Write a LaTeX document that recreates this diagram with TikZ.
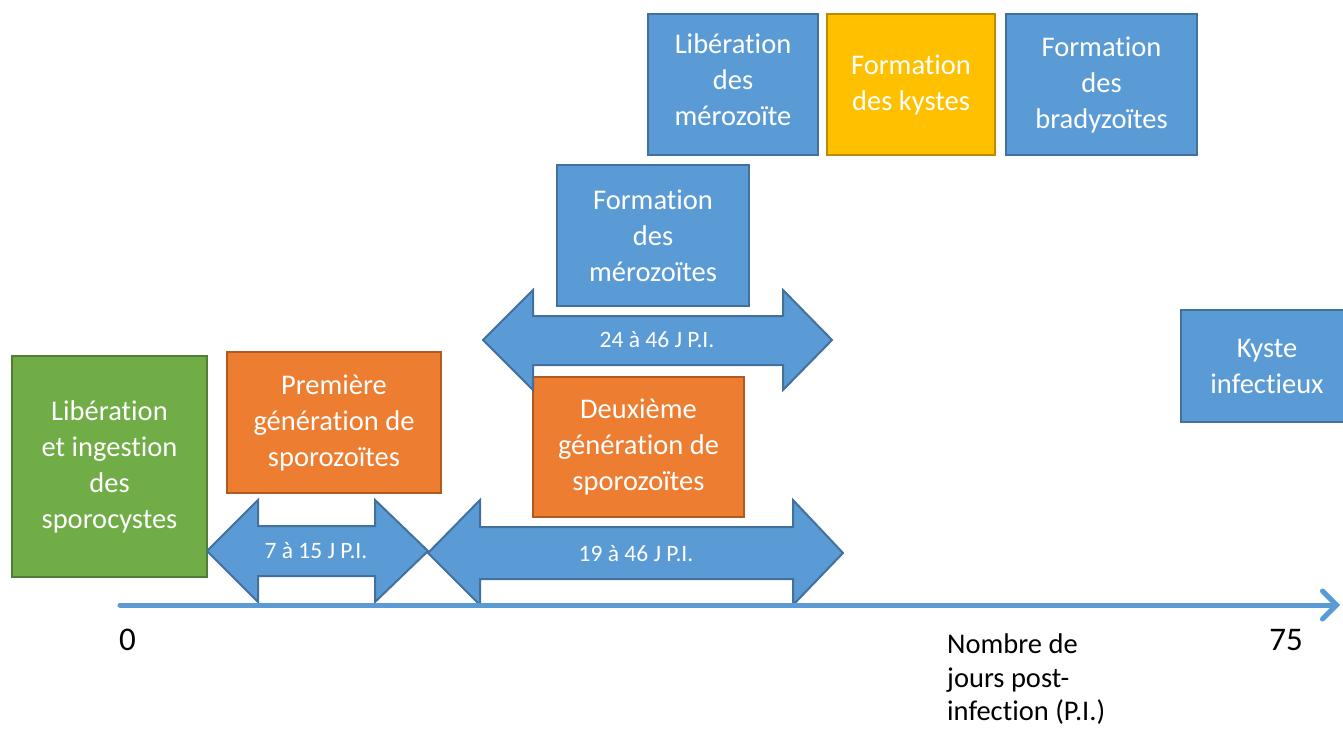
\documentclass[tikz,border=0pt]{standalone}
\usepackage{fontspec}
\setmainfont{Carlito}[RawFeature={-liga;-clig;-dlig}]
\usetikzlibrary{arrows.meta}
\definecolor{bfill}{HTML}{5B9BD5}
\definecolor{bline}{HTML}{41719C}
\definecolor{gfill}{HTML}{70AD47}
\definecolor{gline}{HTML}{507E32}
\definecolor{ofill}{HTML}{ED7D31}
\definecolor{oline}{HTML}{AE5A21}
\definecolor{yfill}{HTML}{FFC000}
\definecolor{yline}{HTML}{BC8C00}
\tikzset{
  box/.style={rectangle, line width=2pt, text=white, align=center, inner sep=0pt,
    font=\fontsize{28.5}{36}\selectfont},
  bluebox/.style={box, draw=bline, fill=bfill},
  greenbox/.style={box, draw=gline, fill=gfill},
  orangebox/.style={box, draw=oline, fill=ofill},
  yellowbox/.style={box, draw=yline, fill=yfill},
  arrowshape/.style={draw=bline, fill=bfill, line width=2pt, line join=miter},
  arrlabel/.style={text=white, inner sep=0pt, font=\fontsize{23.5}{28}\selectfont},
  axis/.style={draw=bfill, line width=5pt, line cap=round,
    -{Straight Barb[length=14pt,width=28pt,line cap=round]}},
  axlabel/.style={inner sep=0pt, font=\fontsize{33}{38}\selectfont},
  axtitle/.style={inner sep=0pt, align=left, anchor=north west, font=\fontsize{28.5}{33.5}\selectfont}
}
\begin{document}
\begin{tikzpicture}[x=1pt,y=-1pt]
\clip (0,0) rectangle (1343,733);
\fill[white] (0,0) rectangle (1343,733);

% boxes
\node[greenbox, minimum width=195pt, minimum height=221pt] (lib) at (109.5,466.5)
  {Libération\\et ingestion\\des\\sporocystes};
\node[orangebox, minimum width=214pt, minimum height=141pt] (pre) at (334,422.5)
  {Première\\génération de\\sporozoïtes};
\node[orangebox, minimum width=211pt, minimum height=140pt] (deu) at (638.5,447)
  {Deuxième\\génération de\\sporozoïtes};
\node[bluebox, minimum width=192pt, minimum height=141pt] (fmer) at (653,235.5)
  {Formation\\des\\mérozoïtes};
\node[bluebox, minimum width=170pt, minimum height=141pt] (lmer) at (733,84.5) {};
\node[text=white, align=center, inner sep=0pt, font=\fontsize{28.5}{36}\selectfont]
  (lmertxt) at (733,80) {Libération\\des\\mérozoïte};
\node[yellowbox, minimum width=168pt, minimum height=141pt] (kys) at (911,84.5)
  {Formation\\des kystes};
\node[bluebox, minimum width=191pt, minimum height=141pt] (bra) at (1101.5,84.5)
  {Formation\\des\\bradyzoïtes};
\node[bluebox, minimum width=172pt, minimum height=112pt] (inf) at (1267,366)
  {Kyste\\infectieux};

% double arrows
\draw[arrowshape] (207,551) -- (258,500) -- (258,526) -- (375,526) -- (375,500)
  -- (428,551) -- (375,602) -- (375,576) -- (258,576) -- (258,602) -- cycle;
\node[arrlabel] (a1) at (316,551) {7 à 15 J P.I.};

\draw[arrowshape] (428,553) -- (480,500) -- (480,527) -- (793,527) -- (793,500)
  -- (843,553) -- (793,605) -- (793,579) -- (480,579) -- (480,605) -- cycle;
\node[arrlabel] (a2) at (636,554) {19 à 46 J P.I.};

\draw[arrowshape] (483,340) -- (533,290) -- (533,316) -- (783,316) -- (783,290)
  -- (832,340) -- (783,390) -- (783,365) -- (533,365) -- (533,390) -- cycle;
\node[arrlabel] (a3) at (657,340) {24 à 46 J P.I.};

% axis
\coordinate (ax0) at (120,605);
\coordinate (ax1) at (1340,605);
\draw[axis] (ax0) -- (ax1);
\node[axlabel] (l0) at (127.5,640) {0};
\node[axlabel] (l75) at (1286,640) {75};
\node[axtitle] (ttl) at (947,634) {Nombre de\\jours post-\\infection (P.I.)};
\end{tikzpicture}
\end{document}
